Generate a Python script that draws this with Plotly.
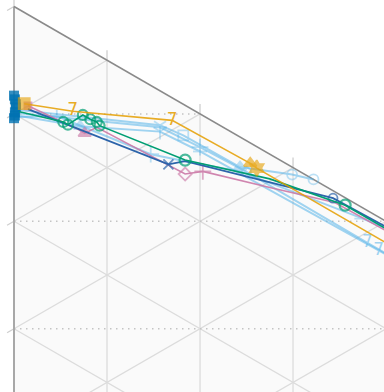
import math
import plotly.graph_objects as go

# ---------------- data (ternary percentages) ----------------
# a = top-left vertex, b = bottom-left vertex, c = right vertex
blue_a = [91.7, 91.3, 90.8, 90.5, 90.1, 89.8, 89.6]
blue_b = [8.3, 8.6, 9.0, 9.3, 9.8, 10.1, 10.4]
blue_c = [0.0, 0.1, 0.2, 0.2, 0.1, 0.1, 0.0]

orange_a = [90.4, 87.1, 80.9, 72.7, 71.9, 54.3]
orange_b = [8.5, 6.6, 2.1, 1.9, 2.0, 2.0]
orange_c = [1.1, 6.3, 17.0, 25.4, 26.1, 43.7]

green_a = [89.9, 86.6, 86.1, 86.2, 85.4, 84.8, 84.3, 76.5, 70.2, 63.7, 55.6]
green_b = [9.5, 8.1, 8.1, 6.4, 6.4, 6.3, 6.5, 5.1, 2.3, 0.7, 0.7]
green_c = [0.6, 5.3, 5.8, 7.4, 8.2, 8.9, 9.2, 18.4, 27.5, 35.6, 43.7]

dblue_a = [89.7, 77.0, 76.4, 65.0, 55.9]
dblue_b = [8.8, 6.4, 5.2, 0.7, 0.4]
dblue_c = [1.5, 16.6, 18.4, 34.3, 43.7]

pink_a = [90.0, 85.3, 84.4, 84.3, 75.2, 74.5, 69.4, 64.5, 55.5]
pink_b = [8.5, 8.0, 8.0, 6.8, 6.4, 5.2, 3.1, 1.0, 0.8]
pink_c = [1.5, 6.7, 7.6, 8.9, 18.4, 20.3, 27.5, 34.5, 43.7]

lb1_a = [90.4, 81.1, 78.9, 72.9, 69.4, 67.8]
lb1_b = [9.6, 3.2, 2.9, 2.8, 0.7, 0.0]
lb1_c = [0.0, 15.7, 18.2, 24.3, 29.9, 32.2]

lb2_a = [90.1, 80.9, 76.9, 72.1, 59.0, 53.3]
lb2_b = [9.9, 3.4, 3.1, 2.9, 3.0, 3.0]
lb2_c = [0.0, 15.7, 20.0, 25.0, 38.0, 43.7]

lb3_a = [89.9, 85.3, 80.5, 76.5, 57.7, 53.2]
lb3_b = [10.1, 7.6, 3.8, 3.5, 3.1, 3.1]
lb3_c = [0.0, 7.1, 15.7, 20.0, 39.2, 43.7]

lb4_a = [89.7, 87.5, 78.9, 76.4, 72.5, 61.5, 56.1]
lb4_b = [10.3, 7.9, 6.4, 5.2, 3.2, 1.0, 0.2]
lb4_c = [0.0, 4.6, 14.7, 18.4, 24.3, 37.5, 43.7]

grid_values = [0.1, 0.2, 0.3, 0.4, 0.5, 0.6, 0.7, 0.8, 0.9]
tick_values = [0.0, 0.1, 0.2, 0.3, 0.4, 0.5]
dotted_values = [0.1, 0.2, 0.3, 0.4]

# ---------------- geometry helpers ----------------
S = math.sqrt(3) / 2
L_PX = 1074.0  # pixel length of a triangle side


def txy(a, b, c):
    s = a + b + c
    b, c = b / s, c / s
    return c * S, b + 0.5 * c


def series_xy(a, b, c):
    xs, ys = [], []
    for ai, bi, ci in zip(a, b, c):
        x, y = txy(ai, bi, ci)
        xs.append(x)
        ys.append(y)
    return xs, ys


fig = go.Figure()

# triangle background
tri = [txy(1, 0, 0), txy(0, 1, 0), txy(0, 0, 1), txy(1, 0, 0)]
fig.add_trace(go.Scatter(x=[p[0] for p in tri], y=[p[1] for p in tri], mode="lines",
                         fill="toself", fillcolor="#fafafa", line=dict(width=0),
                         hoverinfo="skip", showlegend=False))

# grid lines
gx, gy = [], []
for v in grid_values:
    for p, q in [(txy(1 - v, 0, v), txy(0, 1 - v, v)),
                 (txy(1 - v, v, 0), txy(0, v, 1 - v)),
                 (txy(v, 1 - v, 0), txy(v, 0, 1 - v))]:
        gx += [p[0], q[0], None]
        gy += [p[1], q[1], None]
fig.add_trace(go.Scatter(x=gx, y=gy, mode="lines", line=dict(color="#dcdcdc", width=1.3),
                         hoverinfo="skip", showlegend=False))

# ticks
tx, ty = [], []
tl_a = 8 / L_PX
tl_c = 10 / L_PX
for v in tick_values:
    p = txy(1 - v, v, 0)
    tx += [p[0], p[0] - tl_a * S, None]
    ty += [p[1], p[1] + tl_a * 0.5, None]
    q = txy(1 - v, 0, v)
    tx += [q[0], q[0], None]
    ty += [q[1], q[1] - tl_c, None]
fig.add_trace(go.Scatter(x=tx, y=ty, mode="lines", line=dict(color="#cfcfcf", width=1.3),
                         hoverinfo="skip", showlegend=False))

# dotted lines
dx, dy = [], []
for v in dotted_values:
    p = txy(1 - v, v, 0)
    q = txy(1 - 2 * v, 0, 2 * v)
    dx += [p[0], q[0], None]
    dy += [p[1], q[1], None]
fig.add_trace(go.Scatter(x=dx, y=dy, mode="lines",
                         line=dict(color="#c4c4c4", width=1.5, dash="1.5px,4.5px"),
                         hoverinfo="skip", showlegend=False))

# triangle edges
e1 = [txy(1, 0, 0), txy(0, 1, 0)]
fig.add_trace(go.Scatter(x=[p[0] for p in e1], y=[p[1] for p in e1], mode="lines",
                         line=dict(color="#a8a8a8", width=2), hoverinfo="skip", showlegend=False))
e2 = [txy(1, 0, 0), txy(0, 0, 1)]
fig.add_trace(go.Scatter(x=[p[0] for p in e2], y=[p[1] for p in e2], mode="lines",
                         line=dict(color="#8a8a8a", width=1.6), hoverinfo="skip", showlegend=False))


def add_series(a, b, c, color, width, symbols, sizes, texts, opacity=1.0, mlw=1.8):
    x, y = series_xy(a, b, c)
    fig.add_trace(go.Scatter(
        x=x, y=y, mode="lines+markers+text",
        line=dict(color=color, width=width),
        marker=dict(symbol=symbols, size=sizes, color=color, line=dict(color=color, width=mlw)),
        text=texts, textposition="middle center",
        textfont=dict(color=color, size=17, family="DejaVu Sans"),
        opacity=opacity, hoverinfo="skip", showlegend=False, cliponaxis=False))


LB = "#56B4E9"
add_series(lb1_a, lb1_b, lb1_c, LB, 2,
           ["square", "y-down-open", "square-open", "triangle-up", "circle-open", "circle-open"],
           [0, 10, 10, 11, 10, 10], ["", "", "", "", "", ""], opacity=0.55)
add_series(lb2_a, lb2_b, lb2_c, LB, 2,
           ["square", "line-ew-open", "cross-thin-open", "hexagon-open", "circle", "circle"],
           [0, 10, 12, 10, 0, 0], ["", "", "", "", "7", ""], opacity=0.55)
add_series(lb3_a, lb3_b, lb3_c, LB, 2,
           ["square", "triangle-up", "y-down-open", "line-ew-open", "circle", "circle"],
           [0, 11, 10, 10, 0, 0], ["", "", "", "", "7", ""], opacity=0.55)
add_series(lb4_a, lb4_b, lb4_c, LB, 2,
           ["square", "cross-thin-open", "cross-thin-open", "circle", "circle", "line-ew-open", "circle"],
           [0, 9, 12, 0, 0, 12, 0], ["", "", "", "", "", "", ""], opacity=0.55)

# blue squares at the start
bx, by = series_xy(blue_a, blue_b, blue_c)
fig.add_trace(go.Scatter(x=bx, y=by, mode="markers",
                         marker=dict(symbol="square", size=10, color="#0072B2", opacity=0.8),
                         hoverinfo="skip", showlegend=False, cliponaxis=False))

add_series(pink_a, pink_b, pink_c, "#CC79A7", 1.6,
           ["square", "circle", "triangle-up", "circle", "diamond-open", "cross-thin-open", "circle", "circle", "circle"],
           [7, 0, 11, 0, 10, 12, 0, 0, 0], [""] * 9, opacity=0.9)
add_series(dblue_a, dblue_b, dblue_c, "#2c64aa", 1.8,
           ["square", "x-thin-open", "circle", "circle-open", "circle-open"],
           [0, 10, 0, 9, 9], [""] * 5)
add_series(green_a, green_b, green_c, "#009E73", 1.6,
           ["circle-open"] * 11,
           [0, 10, 10, 10, 10, 10, 10, 11, 0, 11, 0], [""] * 11, mlw=2.2)
add_series(orange_a, orange_b, orange_c, "#E69F00", 1.6,
           ["square", "circle", "circle", "triangle-up", "hexagram", "circle"],
           [11, 0, 0, 11, 12, 0], ["", "7", "7", "", "", ""], opacity=0.85)

fig.update_layout(
    width=384, height=392,
    margin=dict(l=0, r=0, t=0, b=0),
    paper_bgcolor="white", plot_bgcolor="white",
    xaxis=dict(range=[-14 / L_PX, 370 / L_PX], visible=False, fixedrange=True),
    yaxis=dict(range=[385.5 / L_PX, -6.5 / L_PX], visible=False, fixedrange=True),
    showlegend=False,
)

fig.write_html("out.html", config={"displayModeBar": False},
               post_script="document.body.style.margin='0';")
